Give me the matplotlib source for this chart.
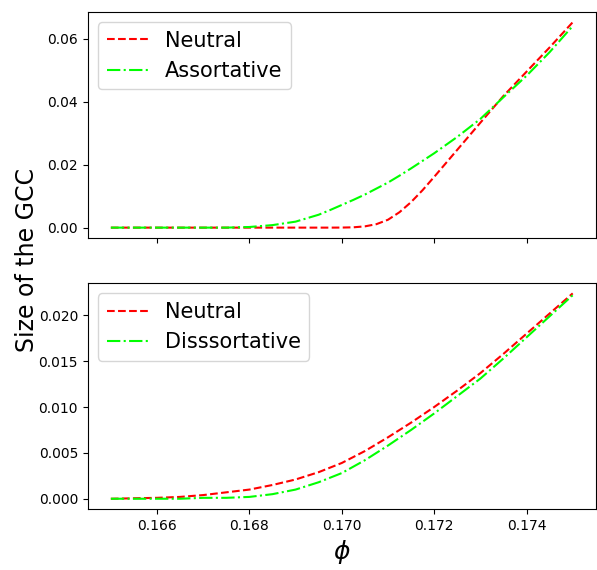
import matplotlib
matplotlib.use('Agg')
import matplotlib.pyplot as plt
from matplotlib.ticker import MultipleLocator

# 上图: neutral vs assortative (拐点附近点更密)
phi_top = [0.1650, 0.1655, 0.1660, 0.1665, 0.1670, 0.1675, 0.1680, 0.1685,
           0.1690, 0.1695, 0.16975, 0.1700, 0.17025, 0.1705, 0.17075, 0.1710,
           0.17125, 0.1715, 0.17175, 0.1720, 0.17225, 0.1725, 0.1730, 0.1735,
           0.1740, 0.1745, 0.1750]
top_neutral = [0.0, 0.0, 0.0, 0.0, 0.0, 0.0, 0.0, 0.0,
               0.0, 0.0, 0.0, 0.00002, 0.0001, 0.0004, 0.0011, 0.0025,
               0.0049, 0.0081, 0.0119, 0.0161, 0.0204, 0.0247, 0.0333, 0.0418,
               0.0495, 0.0572, 0.0652]
top_assortative = [0.0, 0.0, 0.0, 0.0, 0.0, 0.0, 0.0002, 0.0008,
                   0.0019, 0.0041, 0.0056, 0.0072, 0.0088, 0.0105, 0.0124, 0.0143,
                   0.0165, 0.0188, 0.0212, 0.0236, 0.0262, 0.0288, 0.0345, 0.0414,
                   0.0482, 0.0557, 0.0640]

# 下图: neutral vs dissortative
phi_bottom = [0.1650, 0.1655, 0.1660, 0.1665, 0.1670, 0.1675, 0.1680, 0.1685,
              0.1690, 0.1695, 0.1700, 0.1705, 0.1710, 0.1715, 0.1720, 0.1725,
              0.1730, 0.1735, 0.1740, 0.1745, 0.1750]
bottom_neutral = [0.0, 0.00005, 0.0001, 0.0002, 0.0004, 0.0007, 0.0010, 0.0015,
                  0.0021, 0.0029, 0.0039, 0.0052, 0.0067, 0.0083, 0.0100, 0.0118,
                  0.0137, 0.0158, 0.0180, 0.0202, 0.0224]
bottom_dissortative = [0.0, 0.0, 0.0, 0.0, 0.0001, 0.0001, 0.0002, 0.0005,
                       0.0010, 0.0018, 0.0028, 0.0042, 0.0058, 0.0075, 0.0093, 0.0112,
                       0.0131, 0.0153, 0.0176, 0.0199, 0.0222]

fig, (ax1, ax2) = plt.subplots(2, 1, figsize=(5.97, 5.70), dpi=100, sharex=True)
fig.subplots_adjust(left=0.147, right=0.998, top=0.979, bottom=0.107, hspace=0.2)

ax1.plot(phi_top, top_neutral, '--', color='red', lw=1.5, label='Neutral')
ax1.plot(phi_top, top_assortative, '-.', color='lime', lw=1.5, label='Assortative')
ax1.yaxis.set_major_locator(MultipleLocator(0.02))
ax1.legend(loc='upper left', fontsize=15)

ax2.plot(phi_bottom, bottom_neutral, '--', color='red', lw=1.5, label='Neutral')
ax2.plot(phi_bottom, bottom_dissortative, '-.', color='lime', lw=1.5, label='Disssortative')
ax2.legend(loc='upper left', fontsize=15)

ax2.set_xticks([0.166, 0.168, 0.170, 0.172, 0.174])
ax2.set_xlabel(r'$\phi$', fontsize=18)
fig.text(0.045, 0.543, 'Size of the GCC', rotation=90, fontsize=17,
         ha='center', va='center')

plt.savefig('out.png')
